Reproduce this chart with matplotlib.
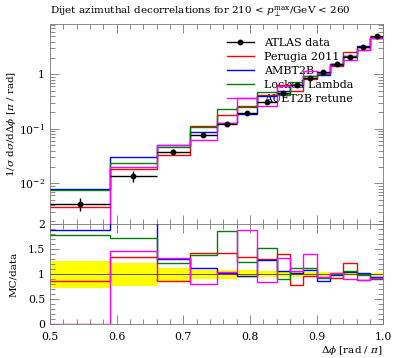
import numpy as np
import matplotlib
matplotlib.use('Agg')
import matplotlib.pyplot as plt
from matplotlib.lines import Line2D
from matplotlib.ticker import MultipleLocator, FixedLocator, FuncFormatter, LogLocator, NullFormatter

# bin edges in delta phi / pi
edges = [0.5, 0.59, 0.66, 0.71, 0.75, 0.78, 0.81, 0.84, 0.86, 0.88, 0.90,
         0.92, 0.94, 0.96, 0.98, 1.0]
# ATLAS data and its relative uncertainty
data = [0.0042, 0.0138, 0.038, 0.078, 0.125, 0.198, 0.315, 0.46, 0.63,
        0.84, 1.12, 1.52, 2.05, 3.2, 5.05]
data_relerr = [0.27, 0.23, 0.13, 0.09, 0.09, 0.075, 0.06, 0.05, 0.05,
               0.045, 0.04, 0.035, 0.035, 0.03, 0.03]

# MC / data
ratio_perugia = [0.86, 1.35, 0.86, 1.43, 1.43, 1.35, 1.31, 1.41, 0.79,
                 0.96, 0.95, 0.93, 1.23, 0.89, 0.95]
ratio_ambt2b = [1.88, 2.2, 1.31, 1.13, 1.03, 0.96, 1.28, 1.07, 1.03,
                1.09, 0.87, 0.99, 1.04, 1.02, 0.94]
ratio_locked = [1.79, 1.73, 1.23, 1.39, 1.86, 1.25, 1.53, 0.90, 1.13,
                1.12, 0.92, 1.0, 1.06, 0.99, 0.91]
ratio_auet2b = [0.0, 1.47, 1.33, 0.81, 1.04, 1.88, 0.85, 1.33, 1.06,
                1.40, 0.95, 1.03, 0.91, 0.88, 0.93]

labels = ['Perugia 2011', 'AMBT2B', 'Locked Lambda', 'AUET2B retune']
colors = ['#ff0000', '#0000ff', '#008000', '#ff00ff']
ratios = [ratio_perugia, ratio_ambt2b, ratio_locked, ratio_auet2b]

plt.rcParams['font.family'] = ['DejaVu Serif']
plt.rcParams['mathtext.fontset'] = 'dejavuserif'
fs = 7.5

edges = np.array(edges)
data = np.array(data)
centers = 0.5 * (edges[1:] + edges[:-1])
halfw = 0.5 * (edges[1:] - edges[:-1])
relerr = np.array(data_relerr)

W, H = 397, 358
fig = plt.figure(figsize=(W / 100, H / 100), dpi=100)
x0, x1 = 50 / W, 383.3 / W
ax = fig.add_axes([x0, 1 - 224 / H, x1 - x0, 200 / H])
axr = fig.add_axes([x0, 1 - 324 / H, x1 - x0, 100 / H], sharex=ax)

for r, c in zip(ratios, colors):
    mc = data * np.array(r)
    ax.stairs(mc, edges, baseline=None, color=c, lw=1.0, zorder=3)
ax.errorbar(centers, data, xerr=halfw, yerr=data * relerr, fmt='o',
            color='black', ms=3.2, lw=1.0, capsize=0, zorder=5)

ax.set_yscale('log')
ax.set_xlim(0.5, 1.0)
ax.set_ylim(0.00179, 8.4)
ax.yaxis.set_major_locator(FixedLocator([0.01, 0.1, 1.0]))
ax.yaxis.set_minor_locator(LogLocator(base=10, subs=np.arange(2, 10)))
ax.yaxis.set_minor_formatter(NullFormatter())
ax.yaxis.set_major_formatter(FuncFormatter(
    lambda v, p: '1' if abs(v - 1) < 1e-9 else r'$10^{%d}$' % round(np.log10(v))))
ax.tick_params(labelbottom=False)

# ratio panel
axr.stairs(1 + relerr, edges, baseline=1 - relerr, fill=True,
           color='#ffff00', lw=0, zorder=1)
axr.axhline(1.0, color='#555555', lw=0.7, zorder=2)
for r, c in zip(ratios, colors):
    axr.stairs(r, edges, baseline=None, color=c, lw=1.0, zorder=3)
axr.set_ylim(0, 2)
axr.yaxis.set_major_locator(MultipleLocator(0.5))
axr.yaxis.set_minor_locator(MultipleLocator(0.1))
axr.yaxis.set_major_formatter(FuncFormatter(lambda v, p: '%g' % v))
axr.xaxis.set_major_locator(MultipleLocator(0.1))
axr.xaxis.set_minor_locator(MultipleLocator(0.02))
axr.xaxis.set_major_formatter(FuncFormatter(lambda v, p: '%.1f' % v))

for a in (ax, axr):
    a.tick_params(which='both', direction='in', top=True, right=True,
                  color='#777777', labelsize=fs + 0.3)
    a.tick_params(which='major', length=6.5, width=0.6)
    a.tick_params(which='minor', length=3.5, width=0.6)
    for s in a.spines.values():
        s.set_color('#777777')
        s.set_linewidth(0.6)
axr.tick_params(axis='x', which='major', pad=6)

ax.set_ylabel(r'$1/\sigma\ \mathrm{d}\sigma/\mathrm{d}\Delta\phi$ [$\pi$ / rad]',
              fontsize=fs)
axr.set_ylabel('MC/data', fontsize=fs)
ax.yaxis.set_label_coords(-32 / 333.3, 0.5)
axr.yaxis.set_label_coords(-32 / 333.3, 0.5)
axr.set_xlabel(r'$\Delta\phi$ [rad / $\pi$]', fontsize=fs, ha='right')
axr.xaxis.set_label_coords(1.0, -0.2)

fig.text(x0, 1 - 12 / H,
         r'Dijet azimuthal decorrelations for 210 < $p_{\perp}^{\mathrm{max}}$/GeV < 260',
         fontsize=fs, ha='left', va='center')

handles = [Line2D([], [], color='black', marker='o', ms=3.2, lw=1.0)]
handles += [Line2D([], [], color=c, lw=1.0) for c in colors]
leg = ax.legend(handles, ['ATLAS data'] + labels, loc='upper left',
                bbox_to_anchor=(227 / W, 1 - 38 / H), bbox_transform=fig.transFigure,
                frameon=False, fontsize=fs + 0.5, borderpad=0, borderaxespad=0,
                handlelength=2.4, handletextpad=0.9, labelspacing=0.35)
leg.set_zorder(2)

fig.savefig('out.png', dpi=100)
